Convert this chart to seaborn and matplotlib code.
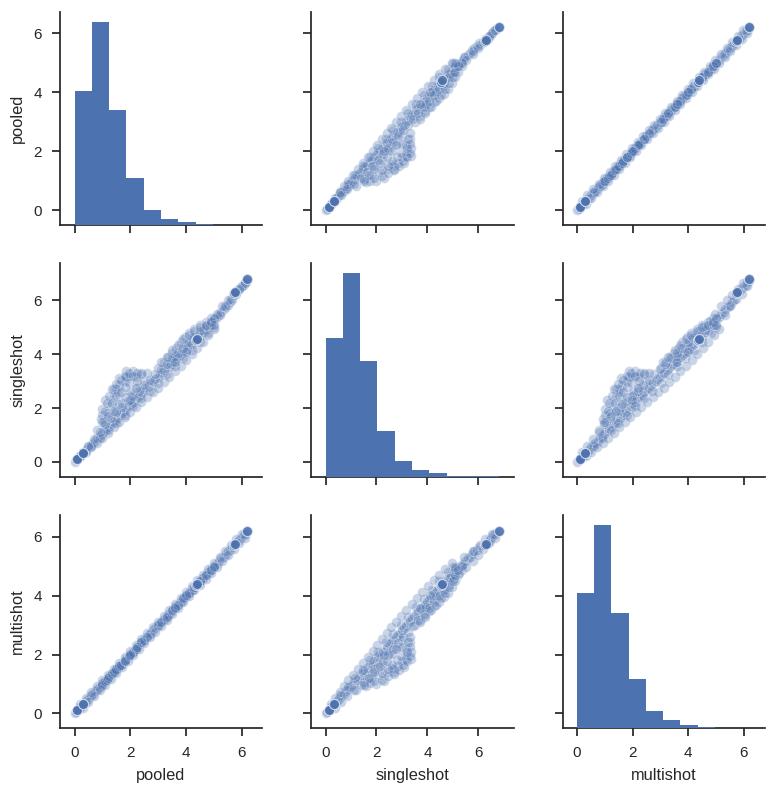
import numpy as np
import pandas as pd
import seaborn as sns
import matplotlib.pyplot as plt

pooled = [0.00, 0.05, 0.15, 0.20, 0.25, 0.36, 0.42, 0.50, 0.58, 0.66, 0.74, 0.82, 0.90, 0.98, 1.06, 1.14, 1.22, 1.30, 1.38, 1.46, 1.54, 1.62, 1.70, 1.78, 1.86, 1.94, 2.02, 2.10, 2.18, 2.26, 2.34, 2.42, 2.50, 2.58, 2.66, 2.74, 2.82, 2.90, 2.98, 3.06, 3.14, 3.22, 3.30, 3.38, 3.46, 3.54, 3.62, 3.70, 3.78, 3.86, 3.94, 4.02, 4.10, 4.18, 4.26, 4.45, 4.52, 4.60, 4.70, 4.78, 4.86, 4.94, 5.02, 5.10, 5.18, 5.26, 5.34, 5.42, 5.50, 5.58, 5.66, 5.82, 5.90, 5.98, 6.06, 6.12, 6.18,
          0.60, 0.90, 1.20, 1.50, 1.80, 2.10, 2.40, 2.70, 3.00, 3.30, 3.60, 3.90, 4.20, 4.50, 4.80, 5.00, 4.90,
          3.00, 3.20, 3.35, 3.50, 3.65, 3.80, 3.95, 4.10, 4.30, 4.50, 4.70, 4.90, 3.60, 4.00, 4.20, 4.60,
          0.80, 0.95, 1.00, 1.10, 1.40, 1.60, 1.85, 2.10, 2.40, 2.50, 1.05, 1.20, 1.30, 1.40, 1.50, 1.80, 2.00, 1.70, 2.05, 2.25, 1.50, 2.20, 1.60, 1.55, 1.85]
singleshot = [0.00, 0.06, 0.17, 0.22, 0.27, 0.38, 0.45, 0.54, 0.62, 0.71, 0.79, 0.88, 0.96, 1.05, 1.13, 1.22, 1.30, 1.39, 1.47, 1.56, 1.64, 1.73, 1.81, 1.90, 1.98, 2.07, 2.15, 2.24, 2.32, 2.41, 2.49, 2.58, 2.66, 2.75, 2.83, 2.92, 3.00, 3.08, 3.16, 3.24, 3.32, 3.40, 3.48, 3.56, 3.64, 3.73, 3.81, 3.89, 3.97, 4.05, 4.13, 4.21, 4.29, 4.37, 4.45, 4.64, 4.72, 4.81, 4.92, 5.01, 5.10, 5.20, 5.30, 5.40, 5.49, 5.58, 5.67, 5.76, 5.84, 5.93, 6.01, 6.36, 6.44, 6.51, 6.59, 6.67, 6.74,
              0.58, 0.88, 1.17, 1.46, 1.76, 2.06, 2.36, 2.65, 2.95, 3.25, 3.56, 3.86, 4.17, 4.47, 4.80, 5.02, 5.10,
              3.50, 3.70, 3.90, 4.05, 4.25, 4.45, 4.65, 4.80, 4.95, 5.10, 5.20, 5.35, 3.95, 4.35, 4.60, 4.90,
              1.20, 1.60, 1.97, 2.30, 2.70, 3.10, 3.37, 3.37, 3.30, 3.00, 1.50, 1.80, 2.10, 2.40, 2.70, 3.00, 3.20, 2.20, 2.50, 2.80, 1.90, 3.15, 2.85, 2.60, 3.15]
multishot = [0.00, 0.06, 0.14, 0.21, 0.25, 0.35, 0.43, 0.50, 0.59, 0.65, 0.75, 0.82, 0.91, 0.97, 1.06, 1.15, 1.21, 1.30, 1.39, 1.45, 1.54, 1.63, 1.69, 1.78, 1.87, 1.93, 2.03, 2.10, 2.17, 2.26, 2.35, 2.41, 2.50, 2.59, 2.65, 2.74, 2.83, 2.89, 2.98, 3.07, 3.13, 3.22, 3.31, 3.37, 3.46, 3.55, 3.61, 3.70, 3.79, 3.85, 3.94, 4.03, 4.09, 4.18, 4.27, 4.45, 4.53, 4.59, 4.70, 4.79, 4.85, 4.94, 5.03, 5.09, 5.18, 5.27, 5.33, 5.42, 5.51, 5.57, 5.66, 5.83, 5.89, 5.98, 6.07, 6.11, 6.18,
             0.61, 0.89, 1.21, 1.49, 1.81, 2.09, 2.41, 2.69, 3.01, 3.29, 3.61, 3.89, 4.21, 4.49, 4.81, 4.99, 4.91,
             3.01, 3.19, 3.36, 3.49, 3.66, 3.79, 3.96, 4.09, 4.31, 4.49, 4.71, 4.89, 3.61, 3.99, 4.21, 4.59,
             0.81, 0.94, 1.01, 1.09, 1.41, 1.59, 1.86, 2.09, 2.41, 2.49, 1.06, 1.19, 1.31, 1.39, 1.51, 1.79, 2.01, 1.69, 2.06, 2.24, 1.51, 2.19, 1.61, 1.54, 1.86]

# Points along the edges of the band and inside the bulges
edge_pooled = [0.2, 0.4, 0.6, 0.8, 1.0, 1.2, 1.4, 1.6, 1.8, 2.0, 2.2, 2.4, 2.6, 2.8, 3.0, 3.2, 3.4, 3.6, 3.8, 4.0, 4.2, 4.4, 4.6, 4.8, 5.0, 5.2, 5.4, 5.6, 5.8, 6.0,
               0.3, 0.5, 0.7, 0.9, 1.1, 1.3, 1.5, 1.7, 1.9, 2.1, 2.3, 2.5, 2.7, 2.9, 3.1, 3.3, 3.5, 3.7, 3.9, 4.1, 4.3, 4.5, 4.7, 4.9, 5.1, 5.3, 5.5, 5.7, 5.9, 6.1,
               1.00, 1.00, 1.10, 1.15, 1.25, 1.35, 1.35, 1.50, 1.50, 1.65, 1.65, 1.80, 1.80, 1.95, 1.95, 2.10, 2.25, 2.25, 2.40, 2.60, 1.20, 1.40, 1.60, 1.80, 2.00, 2.20, 2.00,
               3.1, 3.3, 3.5, 3.7, 3.9, 4.1, 4.3, 4.5, 4.7, 4.9, 5.0, 5.0, 4.0, 3.6]
edge_singleshot = [0.20, 0.38, 0.55, 0.72, 0.90, 1.08, 1.28, 1.47, 1.66, 1.85, 2.03, 2.22, 2.40, 2.58, 2.76, 2.97, 3.17, 3.38, 3.58, 3.80, 4.02, 4.25, 4.47, 4.70, 4.95, 5.45, 5.80, 6.05, 6.25, 6.55,
                   0.36, 0.60, 0.85, 1.12, 1.40, 1.62, 1.84, 2.05, 2.25, 2.45, 2.65, 2.85, 3.05, 3.25, 3.45, 3.65, 3.85, 4.05, 4.25, 4.45, 4.65, 4.85, 5.05, 5.25, 5.50, 5.78, 6.00, 6.20, 6.42, 6.65,
                   1.75, 1.50, 1.90, 2.20, 2.45, 2.70, 2.20, 2.90, 2.45, 3.05, 2.60, 3.20, 2.80, 3.30, 2.95, 3.20, 3.30, 3.00, 3.25, 3.30, 1.70, 1.90, 2.15, 2.40, 2.60, 2.75, 2.30,
                   3.70, 3.90, 4.15, 4.35, 4.55, 4.70, 4.85, 5.00, 5.10, 5.20, 5.35, 5.10, 4.10, 3.70]
edge_multishot = [0.32, 0.52, 0.72, 0.92, 1.12, 1.32, 1.52, 1.72, 1.92, 2.12, 2.32, 2.52, 2.72, 2.92, 3.12, 3.32, 3.52, 3.72, 3.92, 4.12, 4.32, 4.52, 4.72, 4.92, 5.12, 5.32, 5.52, 5.72, 5.92, 6.10,
                  0.18, 0.38, 0.58, 0.78, 0.98, 1.18, 1.38, 1.58, 1.78, 1.98, 2.18, 2.38, 2.58, 2.78, 2.98, 3.18, 3.38, 3.58, 3.78, 3.98, 4.18, 4.38, 4.58, 4.78, 4.98, 5.18, 5.38, 5.58, 5.78, 5.98,
                  1.02, 0.98, 1.11, 1.14, 1.26, 1.34, 1.36, 1.49, 1.51, 1.64, 1.66, 1.79, 1.81, 1.94, 1.96, 2.09, 2.26, 2.24, 2.41, 2.59, 1.21, 1.39, 1.61, 1.79, 2.01, 2.19, 1.99,
                  3.11, 3.29, 3.51, 3.69, 3.91, 4.09, 4.31, 4.49, 4.71, 4.89, 5.01, 4.99, 4.01, 3.59]

# Points that pile up and show as solid dots
heavy_pooled = [0.10, 0.30, 4.36, 4.40, 5.72, 5.76, 6.20]
heavy_singleshot = [0.12, 0.33, 4.53, 4.58, 6.26, 6.30, 6.80]
heavy_multishot = [0.10, 0.30, 4.36, 4.40, 5.72, 5.76, 6.20]
heavy_counts = [9, 9, 5, 5, 5, 5, 6]

# Histogram on the diagonal
pooled_edges = [0.00, 0.62, 1.24, 1.86, 2.48, 3.10, 3.72, 4.34, 4.96, 5.58, 6.20]
pooled_counts = [402, 610, 347, 142, 47, 20, 10, 3, 1, 1]
singleshot_edges = [0.00, 0.68, 1.36, 2.04, 2.72, 3.40, 4.08, 4.76, 5.44, 6.12, 6.80]
singleshot_counts = [416, 611, 347, 138, 46, 19, 10, 3, 1, 1]
multishot_edges = [0.00, 0.62, 1.24, 1.86, 2.48, 3.10, 3.72, 4.34, 4.96, 5.58, 6.20]
multishot_counts = [405, 610, 346, 146, 50, 23, 10, 4, 1, 1]

tick_values = [0, 2, 4, 6]

df = pd.DataFrame({
    'pooled': pooled + edge_pooled + list(np.repeat(heavy_pooled, heavy_counts)),
    'singleshot': singleshot + edge_singleshot + list(np.repeat(heavy_singleshot, heavy_counts)),
    'multishot': multishot + edge_multishot + list(np.repeat(heavy_multishot, heavy_counts)),
})

sns.set_theme(style='ticks', context='notebook')
plt.rcParams['font.family'] = ['Liberation Sans', 'DejaVu Sans']
plt.rcParams['axes.labelsize'] = 11.8
plt.rcParams['axes.labelpad'] = 6
plt.rcParams['xtick.labelsize'] = 11
plt.rcParams['ytick.labelsize'] = 11
plt.rcParams['xtick.major.pad'] = 7
plt.rcParams['ytick.major.pad'] = 7

blue = '#4C72B0'
hist_data = {
    'pooled': (pooled_edges, pooled_counts),
    'singleshot': (singleshot_edges, singleshot_counts),
    'multishot': (multishot_edges, multishot_counts),
}


def binned_hist(x, **kwargs):
    # counts are already binned so they go in as weights
    edges, counts = hist_data[x.name]
    ax = plt.gca()
    sns.histplot(x=edges[:-1], weights=counts, bins=edges, ax=ax, color=blue, alpha=1, linewidth=0)
    ax.set_ylim(0, max(counts) * 1.05)


g = sns.PairGrid(df, vars=['pooled', 'singleshot', 'multishot'], height=2.5, diag_sharey=False)
g.map_offdiag(sns.scatterplot, color=blue, s=50, alpha=0.3, edgecolor='white', linewidth=0.6)
g.map_diag(binned_hist)

limits = [(-0.52, 6.72), (-0.55, 7.38), (-0.50, 6.76)]
for i in range(3):
    g.axes[2, i].set_xlim(limits[i])
    g.axes[i, 0 if i else 1].set_ylim(limits[i])
    g.axes[2, i].set_xticks(tick_values)
    g.axes[i, 0 if i else 1].set_yticks(tick_values)

g.figure.set_size_inches(7.72, 7.91)
g.figure.subplots_adjust(left=60 / 772, right=765 / 772, top=1 - 12 / 791, bottom=1 - 728 / 791, wspace=0.245, hspace=0.178)
g.figure.savefig('out.png', dpi=100)
